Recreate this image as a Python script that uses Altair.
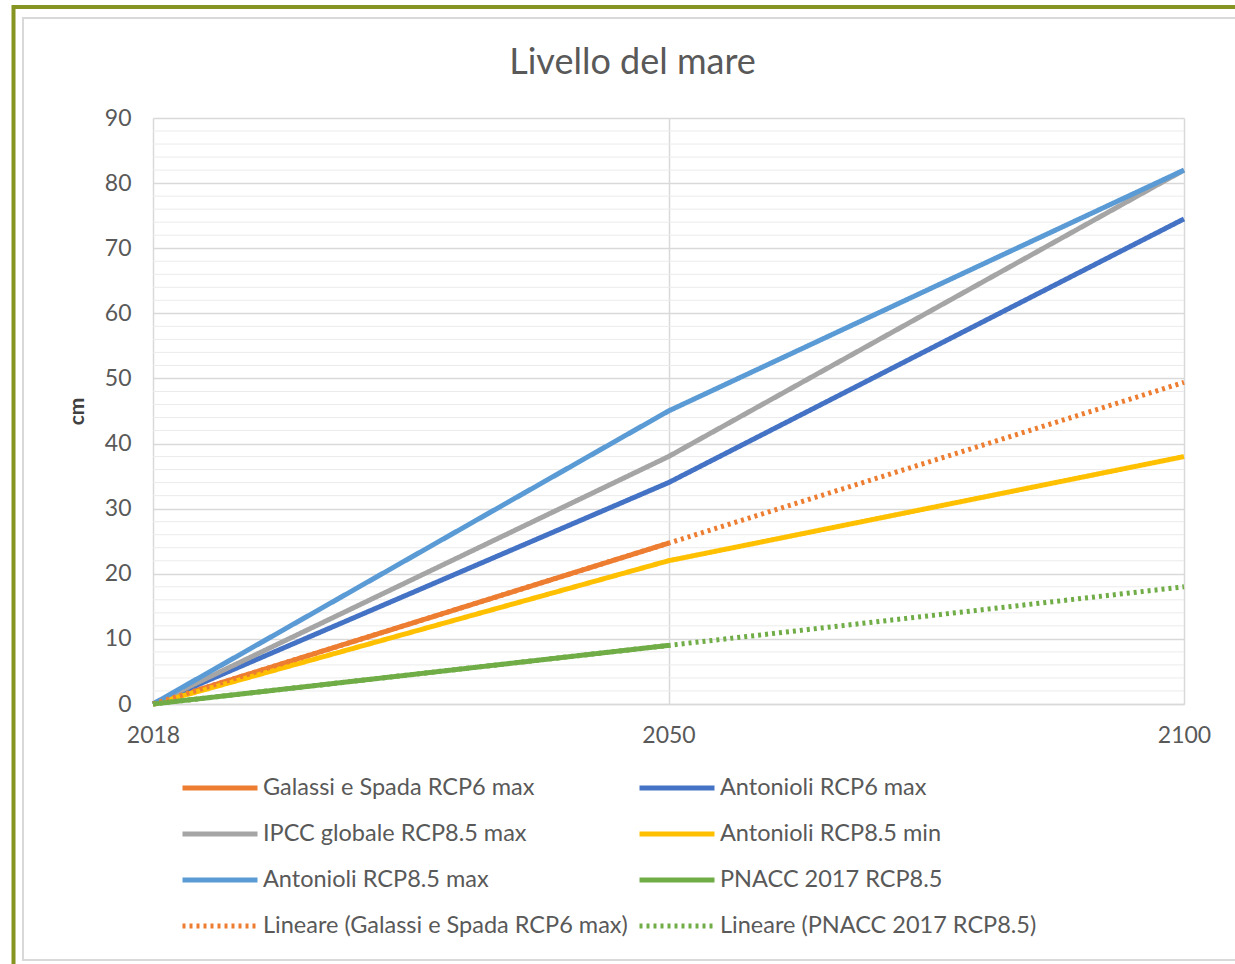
import altair as alt
import pandas as pd

# Category axis (equally spaced, as in a spreadsheet line chart)
years = ["2018", "2050", "2100"]

series_names = [
    "Galassi e Spada RCP6 max",
    "Antonioli RCP6 max",
    "IPCC globale RCP8.5 max",
    "Antonioli RCP8.5 min",
    "Antonioli RCP8.5 max",
    "PNACC 2017 RCP8.5",
    "Lineare (Galassi e Spada RCP6 max)",
    "Lineare (PNACC 2017 RCP8.5)",
]
series_colors = ["#ED7D31", "#4472C4", "#A5A5A5", "#FFC000",
                 "#5B9BD5", "#70AD47", "#ED7D31", "#70AD47"]

# Sea level rise, cm (None = no value for that year)
galassi_rcp6_max = [0, 24.7, None]
antonioli_rcp6_max = [0, 34, 74.5]
ipcc_rcp85_max = [0, 38, 82]
antonioli_rcp85_min = [0, 22, 38]
antonioli_rcp85_max = [0, 45, 82]
pnacc_rcp85 = [0, 9, None]
# Linear trend lines
trend_galassi = [0, 24.7, 49.4]
trend_pnacc = [0, 9, 18]

series_values = [galassi_rcp6_max, antonioli_rcp6_max, ipcc_rcp85_max,
                 antonioli_rcp85_min, antonioli_rcp85_max, pnacc_rcp85,
                 trend_galassi, trend_pnacc]

minor_grid = [v for v in range(2, 90, 2) if v % 10 != 0]

rows = []
for order, (name, vals) in enumerate(zip(series_names, series_values)):
    for yr, v in zip(years, vals):
        if v is not None:
            rows.append({"serie": name, "anno": yr, "cm": v, "ord": order})
df = pd.DataFrame(rows)

# The legend fills its grid column by column: reorder so that it reads
# row by row in the series order above (two columns, four rows).
legend_order = series_names[0::2] + series_names[1::2]
color_of = dict(zip(series_names, series_colors))
legend_colors = [color_of[n] for n in legend_order]
legend_dash = [[3, 4] if n.startswith("Lineare") else [1, 0] for n in legend_order]
legend_width = [3 if n.startswith("Lineare") else 5 for n in legend_order]

FONT = "Lato"
TXT = "#595959"

x_enc = alt.X("anno:O", sort=years,
              scale=alt.Scale(type="point", padding=0),
              axis=alt.Axis(title=None, labelAngle=0, labelFontSize=23,
                            labelColor=TXT, labelFont=FONT, labelPadding=20,
                            ticks=False, domain=True, domainColor="#d9d9d9",
                            domainWidth=1.5, grid=True, gridColor="#d9d9d9",
                            gridWidth=1.5))
y_scale = alt.Scale(domain=[0, 90], nice=False, zero=True)
y_axis = alt.Axis(title="cm", values=list(range(0, 100, 10)),
                  labelFontSize=23, labelColor=TXT, labelFont=FONT,
                  labelPadding=22, ticks=False, domain=False,
                  grid=True, gridColor="#d9d9d9", gridWidth=1.5,
                  titleFontSize=21, titleColor="#404040",
                  titleFont=FONT, titleFontWeight="bold", titlePadding=17)

minor = alt.Chart(pd.DataFrame({"v": minor_grid})).mark_rule(
    color="#ebebeb", strokeWidth=1
).encode(y=alt.Y("v:Q", scale=y_scale, axis=y_axis))

lines = alt.Chart(df).mark_line(strokeCap="butt", strokeJoin="round").encode(
    x=x_enc,
    y=alt.Y("cm:Q", scale=y_scale, axis=y_axis),
    color=alt.Color("serie:N", sort=legend_order,
                    scale=alt.Scale(domain=legend_order, range=legend_colors),
                    legend=alt.Legend(
                        orient="none", legendX=27, legendY=647, columns=2,
                        direction="vertical", clipHeight=46,
                        title=None, padding=0, symbolType="stroke",
                        symbolSize=5625, symbolStrokeWidth=5,
                        labelFontSize=23.5, labelColor=TXT, labelFont=FONT,
                        labelOffset=3, labelLimit=600, columnPadding=9,
                        rowPadding=0)),
    strokeDash=alt.StrokeDash("serie:N", sort=legend_order,
                              scale=alt.Scale(domain=legend_order, range=legend_dash)),
    strokeWidth=alt.StrokeWidth("serie:N", sort=legend_order,
                                scale=alt.Scale(domain=legend_order, range=legend_width)),
    order=alt.Order("ord:Q"),
    detail="serie:N",
)

one = alt.Data(values=[{}])
outer_frame = alt.Chart(one).mark_rect(filled=False, stroke="#869421", strokeWidth=4).encode(
    x=alt.value(-139.5), x2=alt.value(1100), y=alt.value(-111), y2=alt.value(900))
inner_frame = alt.Chart(one).mark_rect(filled=False, stroke="#d9d9d9", strokeWidth=2).encode(
    x=alt.value(-130), x2=alt.value(1090), y=alt.value(-100), y2=alt.value(842))

chart = alt.layer(outer_frame, inner_frame, minor, lines).properties(
    width=1031, height=586,
    autosize=alt.AutoSizeParams(type="none"),
    padding={"left": 153, "top": 118, "right": 51, "bottom": 260},
    background="white",
    title=alt.TitleParams("Livello del mare", fontSize=36, color=TXT, font=FONT,
                          fontWeight="normal", anchor="middle", frame="group",
                          dx=-36, offset=-77),
).configure_view(stroke=None)

chart.save("out.html", embed_options={"renderer": "svg", "actions": False})
